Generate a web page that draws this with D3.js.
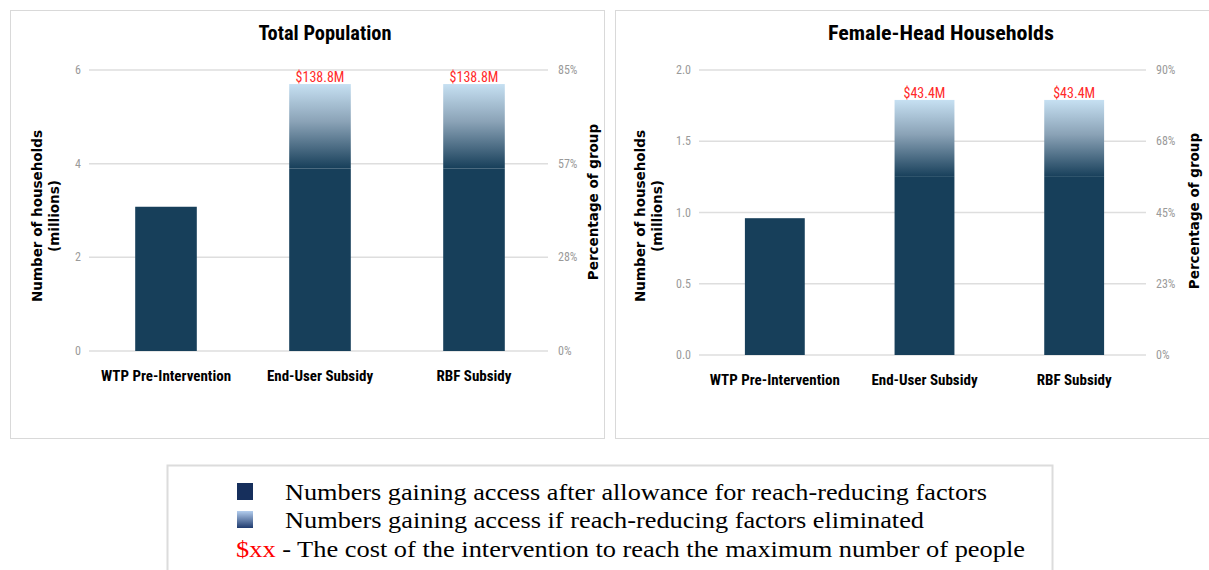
<!DOCTYPE html>
<html>
<head>
<meta charset="utf-8">
<script src="https://cdn.jsdelivr.net/npm/d3@7"></script>
<style>
  body { margin: 0; background: #fff; }
  svg { display: block; }
</style>
</head>
<body>
<div id="root"></div>
<script>
var categories = ['WTP Pre-Intervention', 'End-User Subsidy', 'RBF Subsidy'];

// total population (millions of households)
var totalReached = [3.08, 3.9, 3.9];
var totalPotential = [3.08, 5.7, 5.7];
var totalCost = ['', '$138.8M', '$138.8M'];
var totalTicks = [0, 2, 4, 6];
var totalPctLabels = ['0%', '28%', '57%', '85%'];

// female-head households
var femaleReached = [0.96, 1.25, 1.25];
var femalePotential = [0.96, 1.79, 1.79];
var femaleCost = ['', '$43.4M', '$43.4M'];
var femaleTicks = [0, 0.5, 1.0, 1.5, 2.0];
var femalePctLabels = ['0%', '23%', '45%', '68%', '90%'];

var legendLabels = [
  'Numbers gaining access after allowance for reach-reducing factors',
  'Numbers gaining access if reach-reducing factors eliminated',
  ' - The cost of the intervention to reach the maximum number of people'
];

var W = 1209, H = 570;
var narrow = '"Liberation Sans Narrow", "Arial Narrow", "Roboto Condensed", sans-serif';
var wide = '"DejaVu Sans", Verdana, sans-serif';

var svg = d3.select('#root')
  .append('svg')
    .attr('width', W)
    .attr('height', H);

var defs = svg.append('defs');
var grad = defs.append('linearGradient')
  .attr('id', 'fade')
  .attr('x1', 0).attr('y1', 0).attr('x2', 0).attr('y2', 1);
grad.append('stop').attr('offset', '0%').attr('stop-color', '#c6e0f2');
grad.append('stop').attr('offset', '45%').attr('stop-color', '#8aa2b6');
grad.append('stop').attr('offset', '100%').attr('stop-color', '#173f5a');

var legGrad = defs.append('linearGradient')
  .attr('id', 'legfade')
  .attr('x1', 0).attr('y1', 0).attr('x2', 0).attr('y2', 1);
legGrad.append('stop').attr('offset', '0%').attr('stop-color', '#b3cdee');
legGrad.append('stop').attr('offset', '100%').attr('stop-color', '#1f3b6e');

var drawPanel = (cfg) => {
  var g = svg.append('g');

  g.append('rect')
    .attr('x', cfg.box[0]).attr('y', cfg.box[1])
    .attr('width', cfg.box[2]).attr('height', cfg.box[3])
    .attr('fill', '#fff')
    .attr('stroke', '#d9d9d9');

  g.append('text')
    .attr('x', cfg.titleX).attr('y', 40)
    .attr('text-anchor', 'middle')
    .attr('textLength', cfg.titleW)
    .attr('lengthAdjust', 'spacingAndGlyphs')
    .style('font-family', narrow)
    .style('font-weight', 'bold')
    .style('font-size', '20px')
    .text(cfg.title);

  var y = d3.scaleLinear()
    .domain([0, d3.max(cfg.ticks)])
    .range([cfg.y0, cfg.y1]);

  var x = d3.scaleBand()
    .domain(categories)
    .range(cfg.xr)
    .paddingInner(0.6)
    .paddingOuter(0.3);

  // gridlines
  g.selectAll('.grid')
    .data(cfg.ticks)
    .enter()
    .append('line')
      .attr('x1', cfg.gx[0]).attr('x2', cfg.gx[1])
      .attr('y1', d => y(d)).attr('y2', d => y(d))
      .attr('stroke', '#dedede')
      .attr('stroke-width', 1.5);

  // left tick labels
  g.selectAll('.ltick')
    .data(cfg.ticks)
    .enter()
    .append('text')
      .attr('x', cfg.gx[0] - 8)
      .attr('y', d => y(d) + 4)
      .attr('text-anchor', 'end')
      .style('font-family', narrow)
      .style('font-size', '12px')
      .attr('fill', '#9a9a9a')
      .text(d => cfg.fmt(d));

  // right tick labels
  g.selectAll('.rtick')
    .data(cfg.ticks)
    .enter()
    .append('text')
      .attr('x', cfg.gx[1] + 10)
      .attr('y', (d, i) => y(d) + 4)
      .style('font-family', narrow)
      .style('font-size', '12px')
      .attr('fill', '#9a9a9a')
      .text((d, i) => cfg.pct[i]);

  // gradient (potential) part
  g.selectAll('.pot')
    .data(categories)
    .enter()
    .append('rect')
      .attr('x', d => x(d))
      .attr('y', (d, i) => y(cfg.potential[i]))
      .attr('width', x.bandwidth())
      .attr('height', (d, i) => y(cfg.reached[i]) - y(cfg.potential[i]))
      .attr('fill', 'url(#fade)');

  // reached part
  g.selectAll('.reach')
    .data(categories)
    .enter()
    .append('rect')
      .attr('x', d => x(d))
      .attr('y', (d, i) => y(cfg.reached[i]))
      .attr('width', x.bandwidth())
      .attr('height', (d, i) => y(0) - y(cfg.reached[i]))
      .attr('fill', '#173f5a');

  // cost labels
  g.selectAll('.cost')
    .data(categories)
    .enter()
    .append('text')
      .attr('x', d => x(d) + x.bandwidth() / 2)
      .attr('y', (d, i) => y(cfg.potential[i]) - 2)
      .attr('text-anchor', 'middle')
      .style('font-family', narrow)
      .style('font-size', '14px')
      .attr('fill', '#ff2a2a')
      .text((d, i) => cfg.cost[i]);

  // category labels
  g.selectAll('.cat')
    .data(categories)
    .enter()
    .append('text')
      .attr('x', d => x(d) + x.bandwidth() / 2)
      .attr('y', cfg.y0 + 30)
      .attr('text-anchor', 'middle')
      .style('font-family', narrow)
      .style('font-weight', 'bold')
      .style('font-size', '15px')
      .text(d => d);

  // axis titles
  var lt = g.append('text')
    .attr('transform', 'translate(' + cfg.ltX + ',' + cfg.ltY + ') rotate(-90)')
    .attr('text-anchor', 'middle')
    .style('font-family', wide)
    .style('font-weight', 'bold')
    .style('font-size', '13.5px');
  lt.append('tspan').attr('x', 0).attr('dy', 0).text('Number of households');
  lt.append('tspan').attr('x', 0).attr('dy', 17).text('(millions)');

  g.append('text')
    .attr('transform', 'translate(' + cfg.rtX + ',' + cfg.rtY + ') rotate(-90)')
    .attr('text-anchor', 'middle')
    .style('font-family', wide)
    .style('font-weight', 'bold')
    .style('font-size', '13.5px')
    .text('Percentage of group');
};

drawPanel({
  title: 'Total Population', titleX: 325, titleW: 133,
  box: [10.5, 10.5, 594, 428],
  ticks: totalTicks, pct: totalPctLabels,
  reached: totalReached, potential: totalPotential, cost: totalCost,
  fmt: d3.format('d'),
  y0: 351, y1: 70,
  xr: [89, 551], gx: [89, 548],
  ltX: 42, ltY: 216, rtX: 598, rtY: 202
});

drawPanel({
  title: 'Female-Head Households', titleX: 941, titleW: 226,
  box: [615.5, 10.5, 600, 428],
  ticks: femaleTicks, pct: femalePctLabels,
  reached: femaleReached, potential: femalePotential, cost: femaleCost,
  fmt: d3.format('.1f'),
  y0: 355, y1: 70,
  xr: [700, 1149], gx: [699, 1146],
  ltX: 645, ltY: 216, rtX: 1199, rtY: 211
});

// legend
var leg = svg.append('g');
leg.append('rect')
  .attr('x', 167.5).attr('y', 465.5)
  .attr('width', 885).attr('height', 120)
  .attr('fill', '#fff')
  .attr('stroke', '#dcdcdc')
  .attr('stroke-width', 2);

var serif = '"Liberation Serif", "Times New Roman", serif';
var lineW = [702, 639];

leg.append('rect')
  .attr('x', 237).attr('y', 483)
  .attr('width', 16).attr('height', 17)
  .attr('fill', '#162f5c');
leg.append('rect')
  .attr('x', 237).attr('y', 511)
  .attr('width', 16).attr('height', 17)
  .attr('fill', 'url(#legfade)');

leg.selectAll('.lt')
  .data(legendLabels.slice(0, 2))
  .enter()
  .append('text')
    .attr('x', 285)
    .attr('y', (d, i) => 500 + i * 28)
    .attr('textLength', (d, i) => lineW[i])
    .attr('lengthAdjust', 'spacingAndGlyphs')
    .style('font-family', serif)
    .style('font-size', '24px')
    .text(d => d);

var last = leg.append('text')
  .attr('x', 236).attr('y', 557)
  .attr('textLength', 789)
  .attr('lengthAdjust', 'spacingAndGlyphs')
  .style('font-family', serif)
  .style('font-size', '24px');
last.append('tspan').attr('fill', '#ff0000').text('$xx');
last.append('tspan').attr('fill', '#000').text(legendLabels[2]);
</script>
</body>
</html>
